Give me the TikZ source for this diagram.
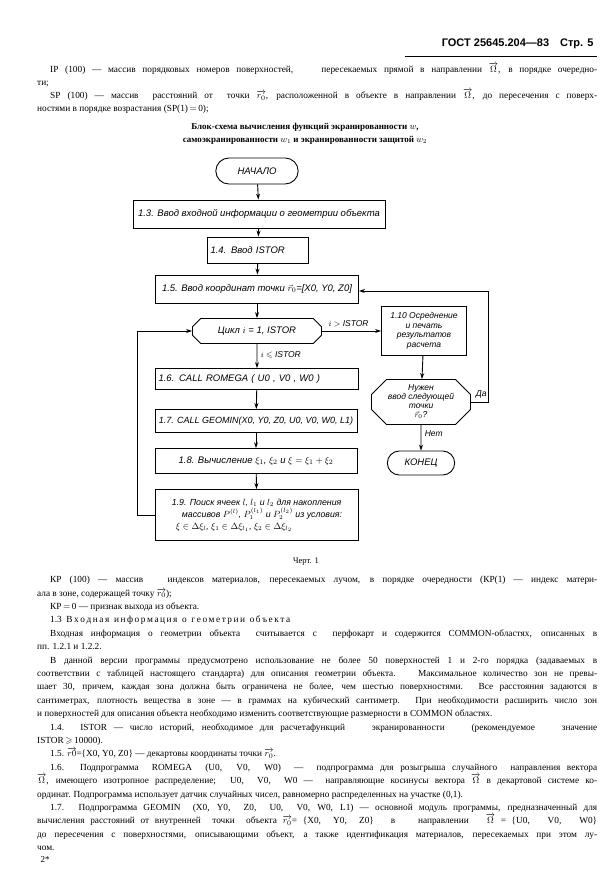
\documentclass[tikz,border=0pt]{standalone}
\usepackage{fontspec}
\usepackage{amsmath,amssymb}
\setmainfont{Liberation Serif}
\newfontfamily\fcf{Liberation Sans}
\newcommand{\vv}[1]{\smash{$\overrightarrow{#1}$}}
\usetikzlibrary{shapes.misc,shapes.geometric,arrows.meta}
\tikzset{
 blk/.style={draw,line width=0.9pt,inner sep=2pt,font=\fcf\itshape\fontsize{9.5}{10.5}\selectfont,anchor=north west},
 term/.style={draw,line width=0.9pt,rounded rectangle,font=\fcf\itshape\fontsize{9.5}{10.5}\selectfont,minimum height=26pt},
 hexa/.style={draw,line width=0.9pt,chamfered rectangle,chamfered rectangle xsep=14pt,font=\fcf\itshape\fontsize{9.5}{10.5}\selectfont,align=center,inner sep=1pt},
 arr/.style={-{Stealth[length=6pt,width=4pt]},line width=0.9pt},
 lab/.style={font=\fcf\itshape\fontsize{8.5}{9}\selectfont},
 txt/.style={anchor=north west,inner sep=0pt,font=\fontsize{9.3}{13}\selectfont,text width=560pt,align=justify},
}
\begin{document}
\begin{tikzpicture}[x=1pt,y=-1pt]
\useasboundingbox (0,0) rectangle (614,873);
\fill[white] (0,0) rectangle (614,873);
% header
\node[anchor=east,font=\fcf\bfseries\fontsize{11}{12}\selectfont] (hdr) at (597,44) {ГОСТ 25645.204—83\quad Стр. 5};
\draw[line width=1pt] (405,56) -- (597,56);
% top text
\node[txt] (t1) at (37,66) {\setlength{\parindent}{13pt}\hspace*{13pt}%
ІР (100) — массив порядковых номеров поверхностей, \ \ \ пересекаемых прямой в направлении \vv{\Omega}, в порядке очередно-\linebreak ти;\par
SP (100) — массив \ расстояний от \ точки \vv{r_0}, расположенной в объекте в направлении \vv{\Omega}, до пересечения с поверх-\linebreak ностями в порядке возрастания (SP(1)$\,=\,$0);\par};
\node[font=\bfseries\fontsize{9}{13.5}\selectfont,align=center] (title) at (305,134) {Блок-схема вычисления функций экранированности $w$,\\ самоэкранированности $w_1$ и экранированности защитой $w_2$};
% flowchart
\node[term,minimum width=89pt] (start) at (257,171) {НАЧАЛО};
\node[blk,minimum width=252pt,minimum height=28pt,anchor=center] (b13) at (259,214) {1.3. Ввод входной информации о геометрии объекта};
\node[blk,minimum width=101pt,text width=95pt,minimum height=26pt,anchor=center,align=left] (b14) at (258,250) {1.4. Ввод ISTOR};
\node[blk,minimum width=203pt,minimum height=28pt,anchor=center] (b15) at (257,289) {1.5. Ввод координат точки $\vec r_0$=[X0, Y0, Z0]};
\node[hexa,minimum width=129pt,minimum height=25pt] (cyc) at (257,331) {Цикл $i$ = 1, ISTOR};
\node[blk,minimum width=85pt,minimum height=49pt,anchor=center,align=center,font=\fcf\itshape\fontsize{8.5}{9.5}\selectfont] (b110) at (424,331) {1.10 Осреднение\\ и печать\\ результатов\\ расчета};
\node[blk,minimum width=203pt,text width=197pt,minimum height=21pt,anchor=center,align=left] (b16) at (257,379) {1.6. CALL ROMEGA ( U0 , V0 , W0 )};
\node[blk,minimum width=202pt,minimum height=23pt,anchor=center,font=\fcf\itshape\fontsize{9}{10}\selectfont] (b17) at (256,421) {1.7. CALL GEOMIN(X0, Y0, Z0, U0, V0, W0, L1)};
\node[blk,minimum width=202pt,minimum height=25pt,anchor=center] (b18) at (256,461) {1.8. Вычисление $\xi_1$, $\xi_2$ и $\xi=\xi_1+\xi_2$};
\node[blk,minimum width=203pt,minimum height=51pt,anchor=center,align=left,font=\fcf\itshape\fontsize{8.8}{12}\selectfont] (b19) at (257,515) {1.9. Поиск ячеек $l$, $l_1$ и $l_2$ для накопления\\ \hspace*{10pt}массивов $P^{(l)}$, $P_1^{(l_1)}$ и $P_2^{(l_2)}$ из условия:\\ \hspace*{4pt}$\xi\in\Delta\xi_l$, $\xi_1\in\Delta\xi_{l_1}$, $\xi_2\in\Delta\xi_{l_2}$};
\node[hexa,minimum width=99pt,minimum height=45pt,chamfered rectangle xsep=12pt,font=\fcf\itshape\fontsize{8.5}{9}\selectfont] (dec) at (421,402) {Нужен\\ ввод следующей\\ точки\\ $\vec r_0$?};
\node[term,minimum width=74pt,minimum height=24pt] (end) at (421,463) {КОНЕЦ};
\draw[arr] (start) -- (b13);
\draw[arr] (b13) -- (b14);
\draw[arr] (b14) -- (b15);
\draw[arr] (b15) -- (cyc);
\draw[arr] (cyc) -- node[lab,right,pos=0.45]{$i\leqslant$ ISTOR} (b16);
\draw[arr] (cyc.east) -- node[lab,above,pos=0.45]{$i>$ ISTOR} (b110.west |- cyc.east);
\draw[arr] (b16) -- (b17);
\draw[arr] (b17) -- (b18);
\draw[arr] (b18) -- (b19);
\draw[arr] (b110) -- (dec);
\draw[arr] (dec) -- node[lab,right,pos=0.35]{Нет} (end);
\coordinate (lp1) at (137,515);
\coordinate (lp2) at (137,331);
\draw[arr] (b19.west) -- (lp1) -- (lp2) -- (cyc.west);
\coordinate (da1) at (488,402);
\coordinate (da2) at (488,291);
\draw[arr] (dec.east) -- node[lab,above,pos=0.6]{Да} (da1) -- (da2) -- (b15.east |- da2);
\node[font=\fontsize{8.5}{10}\selectfont] (fig) at (306,562) {Черт. 1};
% bottom text
\node[txt,font=\fontsize{9.3}{13.4}\selectfont] (t2) at (37,576) {\setlength{\parindent}{13pt}\hspace*{13pt}%
КР (100) — массив \ \ индексов материалов, пересекаемых лучом, в порядке очередности (КР(1) — индекс матери-\linebreak ала в зоне, содержащей точку \vv{r_0});\par
КР$\,=\,$0 — признак выхода из объекта.\par
1.3 \ В\,х\,о\,д\,н\,а\,я \ и\,н\,ф\,о\,р\,м\,а\,ц\,и\,я \ о \ г\,е\,о\,м\,е\,т\,р\,и\,и \ о\,б\,ъ\,е\,к\,т\,а\par
Входная информация о геометрии объекта \ считывается с \ перфокарт и содержится COMMON-областях, описанных в\linebreak пп. 1.2.1 и 1.2.2.\par
В данной версии программы предусмотрено использование не более 50 поверхностей 1 и 2-го порядка (задаваемых в\linebreak соответствии с таблицей настоящего стандарта) для описания геометрии объекта. \ Максимальное количество зон не превы-\linebreak шает 30, причем, каждая зона должна быть ограничена не более, чем шестью поверхностями. Все расстояния задаются в\linebreak сантиметрах, плотность вещества в зоне — в граммах на кубический сантиметр. При необходимости расширить число зон\linebreak и поверхностей для описания объекта необходимо изменить соответствующие размерности в COMMON областях.\par
1.4. ISTOR — число историй, необходимое для расчетафункций \ \ \ экранированности \ \ \ (рекомендуемое \ \ \ значение\linebreak ISTOR$\,\geqslant\,$10000).\par
1.5. \vv{r0}=\{X0, Y0, Z0\} — декартовы координаты точки \vv{r_0}.\par
1.6. Подпрограмма \ ROMEGA \ (U0, \ V0, \ W0) \ — \ подпрограмма для розыгрыша случайного \ направления вектора\linebreak \vv{\Omega}, имеющего изотропное распределение; \ U0, \ V0, \ W0 — \ направляющие косинусы вектора \vv{\Omega} в декартовой системе ко-\linebreak ординат. Подпрограмма использует датчик случайных чисел, равномерно распределенных на участке (0,1).\par
1.7. Подпрограмма GEOMIN \ (X0, Y0, \ Z0, \ U0, \ V0, W0, L1) — основной модуль программы, предназначенный для\linebreak вычисления расстояний от внутренней \ точки \ объекта \vv{r_0}= \{X0, \ Y0, \ Z0\} \ \ в \ \ \ направлении \ \ \vv{\Omega} = \{U0, \ \ V0, \ \ W0\}\linebreak до пересечения с поверхностями, описывающими объект, а также идентификация материалов, пересекаемых при этом лу-\linebreak чом.\par};
\node[anchor=west,font=\fontsize{9}{10}\selectfont] (pg) at (37,860) {2*};
\end{tikzpicture}
\end{document}
